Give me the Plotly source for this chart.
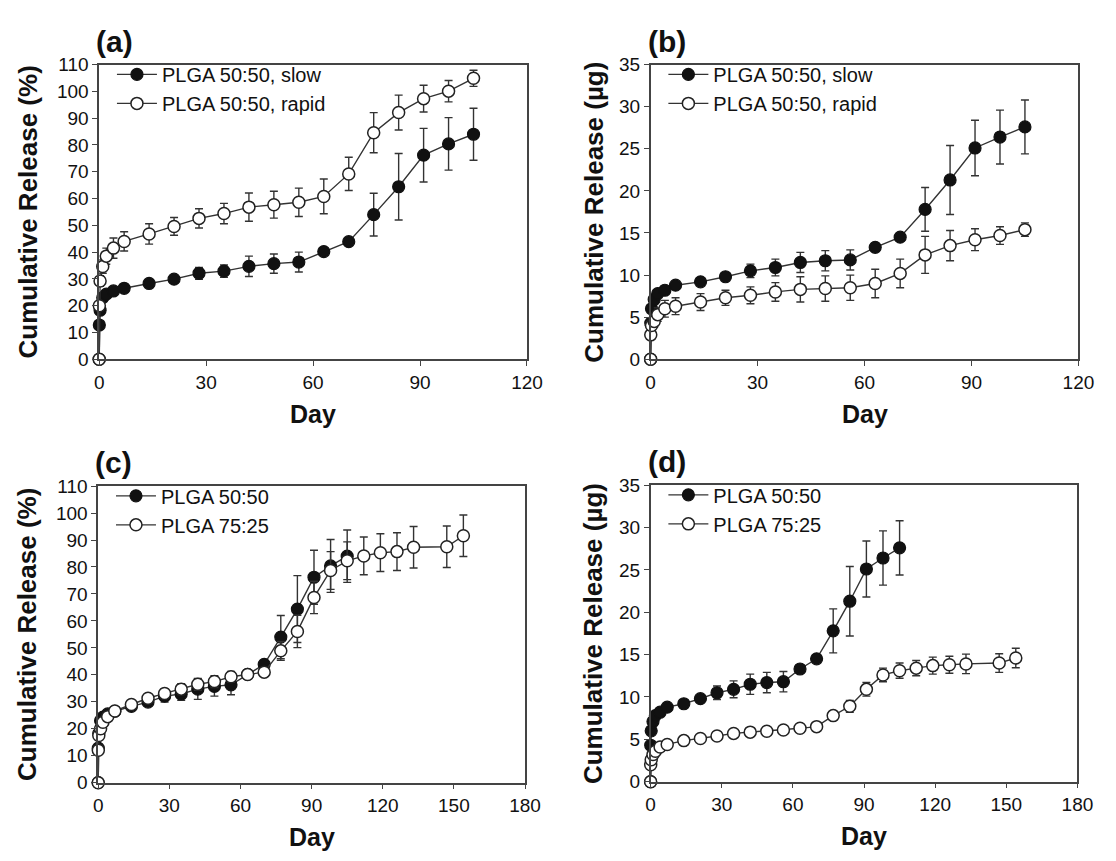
import plotly.graph_objects as go

W, H = 1116, 861

# ---------------- data ----------------
days = [0, 0.04, 0.25, 1, 2, 4, 7, 14, 21, 28, 35, 42, 49, 56, 63, 70, 77, 84, 91, 98, 105]
days_long = days + [112, 119, 126, 133, 147, 154]

slow_pct = [0, 12.8, 18.3, 23.0, 24.3, 25.5, 26.5, 28.3, 29.9, 32.1, 32.9, 34.7, 35.7, 36.3,
            40.2, 43.9, 54.0, 64.4, 76.2, 80.4, 84.0]
slow_pct_err = [0, 1.0, 1.0, 1.0, 1.0, 1.0, 1.0, 1.2, 1.3, 2.2, 2.3, 3.8, 3.6, 3.7,
                1.3, 1.3, 8.0, 12.4, 10.0, 9.8, 9.7]
rapid_pct = [0, 20.0, 29.2, 34.6, 38.5, 41.5, 44.0, 46.8, 49.6, 52.6, 54.4, 56.8, 57.7, 58.6,
             60.8, 69.2, 84.6, 92.1, 97.3, 100.1, 104.9]
rapid_pct_err = [0, 1.5, 2.0, 2.5, 3.0, 3.8, 3.6, 3.8, 3.3, 3.6, 3.8, 5.3, 5.0, 5.3,
                 6.5, 6.2, 7.5, 6.5, 5.0, 4.0, 3.0]

slow_ug = [0, 4.3, 6.0, 7.1, 7.8, 8.2, 8.8, 9.2, 9.8, 10.5, 10.9, 11.5, 11.7, 11.8,
           13.3, 14.5, 17.8, 21.3, 25.1, 26.4, 27.6]
slow_ug_err = [0, 0.3, 0.3, 0.3, 0.3, 0.3, 0.3, 0.4, 0.4, 0.8, 1.0, 1.2, 1.2, 1.2,
               0.5, 0.4, 2.6, 4.1, 3.3, 3.2, 3.2]
rapid_ug = [0, 2.9, 4.0, 4.5, 5.3, 6.0, 6.3, 6.8, 7.3, 7.6, 8.0, 8.3, 8.4, 8.5,
            9.0, 10.2, 12.4, 13.5, 14.2, 14.7, 15.4]
rapid_ug_err = [0, 0.5, 0.6, 0.7, 0.8, 1.0, 1.0, 1.0, 0.9, 1.0, 1.1, 1.5, 1.5, 1.5,
                1.7, 1.7, 2.2, 1.8, 1.3, 1.05, 0.8]

p7525_pct = [0, 12.0, 17.5, 20.0, 22.4, 24.5, 26.6, 29.0, 31.3, 33.1, 34.7, 36.5, 37.5, 39.3,
             40.1, 41.0, 48.9, 56.1, 68.7, 78.7, 82.3, 84.1, 85.3, 85.7, 87.3, 87.5, 91.6]
p7525_pct_err = [0, 1.0, 1.2, 1.2, 1.3, 1.3, 1.3, 1.5, 1.5, 1.8, 2.0, 2.2, 2.2, 2.0,
                 1.5, 1.5, 3.5, 6.0, 6.0, 7.0, 7.0, 7.0, 7.0, 7.0, 7.7, 7.7, 7.7]
p7525_ug = [0, 2.0, 2.6, 3.2, 3.6, 4.1, 4.4, 4.85, 5.1, 5.4, 5.7, 5.85, 5.95, 6.1,
            6.3, 6.5, 7.8, 8.9, 10.9, 12.6, 13.1, 13.4, 13.7, 13.8, 13.9, 14.0, 14.6]
p7525_ug_err = [0, 0.2, 0.2, 0.2, 0.2, 0.2, 0.2, 0.2, 0.2, 0.2, 0.2, 0.2, 0.2, 0.2,
                0.2, 0.3, 0.4, 0.7, 0.8, 0.8, 0.9, 0.9, 1.0, 1.0, 1.15, 1.1, 1.15]

names_ab = ["PLGA 50:50, slow", "PLGA 50:50, rapid"]
names_cd = ["PLGA 50:50", "PLGA 75:25"]
panel_labels = ["(a)", "(b)", "(c)", "(d)"]
ytitles = ["Cumulative Release (%)", "Cumulative Release (\u00b5g)",
           "Cumulative Release (%)", "Cumulative Release (\u00b5g)"]
xtitle = "Day"

# ---------------- layout geometry (px) ----------------
panels = [
    dict(x0=96, x1=532, y0=56, y1=358),
    dict(x0=658, x1=1094, y0=56, y1=358),
    dict(x0=95, x1=530, y0=488, y1=792),
    dict(x0=658, x1=1093, y0=487, y1=791),
]
def px(x):
    return x / W
def py(y):
    return 1 - y / H

FONT = "Liberation Sans, Arial, sans-serif"

fig = go.Figure()

def add_series(idx, x, y, err, name, filled, legend):
    sfx = "" if idx == 0 else str(idx + 1)
    fig.add_trace(go.Scatter(
        x=x, y=y, name=name, mode="lines+markers",
        xaxis="x" + sfx, yaxis="y" + sfx, legend=legend,
        line=dict(color="#333333", width=1.4),
        marker=dict(size=12, symbol="circle",
                    color="#111111" if filled else "white",
                    line=dict(color="#111111" if filled else "#222222", width=1.2 if filled else 1.5)),
        error_y=dict(type="data", array=err, visible=True, color="#333333", thickness=1.4, width=4),
        cliponaxis=False,
    ))

add_series(0, days, slow_pct, slow_pct_err, names_ab[0], True, "legend")
add_series(0, days, rapid_pct, rapid_pct_err, names_ab[1], False, "legend")
add_series(1, days, slow_ug, slow_ug_err, names_ab[0], True, "legend2")
add_series(1, days, rapid_ug, rapid_ug_err, names_ab[1], False, "legend2")
add_series(2, days, slow_pct, slow_pct_err, names_cd[0], True, "legend3")
add_series(2, days_long, p7525_pct, p7525_pct_err, names_cd[1], False, "legend3")
add_series(3, days, slow_ug, slow_ug_err, names_cd[0], True, "legend4")
add_series(3, days_long, p7525_ug, p7525_ug_err, names_cd[1], False, "legend4")

layout = dict(
    width=W, height=H, margin=dict(l=0, r=0, t=0, b=0),
    paper_bgcolor="white", plot_bgcolor="white",
    font=dict(family=FONT, color="#111111", size=19),
    showlegend=True,
)
xranges = [[0, 120], [0, 120], [0, 180], [0, 180]]
yranges = [[0, 110], [0, 35], [0, 110], [0, 35]]
ydt = [10, 5, 10, 5]
annotations = []
for i, p in enumerate(panels):
    sfx = "" if i == 0 else str(i + 1)
    axstyle = dict(showline=True, linecolor="#444444", linewidth=1.5, mirror=True,
                   ticks="outside", ticklen=5, tickwidth=1.2, tickcolor="#444444",
                   showgrid=False, zeroline=False,
                   tickfont=dict(family=FONT, size=19, color="#111111"))
    layout["xaxis" + sfx] = dict(domain=[px(p["x0"]), px(p["x1"])], range=xranges[i],
                                 dtick=30, tick0=0, anchor="y" + sfx, **axstyle)
    layout["yaxis" + sfx] = dict(domain=[py(p["y1"]), py(p["y0"])], range=yranges[i],
                                 dtick=ydt[i], tick0=0, anchor="x" + sfx, **axstyle)
    leg = "legend" if i == 0 else "legend" + str(i + 1)
    layout[leg] = dict(x=px(p["x0"] + 13), y=py(p["y0"] - 10), xanchor="left", yanchor="top",
                       bgcolor="rgba(0,0,0,0)", font=dict(family=FONT, size=20, color="#111111"),
                       tracegroupgap=0, itemwidth=40)
    # panel label
    annotations.append(dict(text="<b>" + panel_labels[i] + "</b>", x=px(p["x0"] - 5), y=py(p["y0"] - 24),
                            xref="paper", yref="paper", xanchor="left", yanchor="middle",
                            showarrow=False, font=dict(family=FONT, size=30, color="#111111")))
    # y title
    tx = 23 if i % 2 == 0 else 600
    annotations.append(dict(text="<b>" + ytitles[i] + "</b>", x=px(tx), y=py((p["y0"] + p["y1"]) / 2),
                            xref="paper", yref="paper", xanchor="center", yanchor="middle",
                            textangle=-90, showarrow=False,
                            font=dict(family=FONT, size=26, color="#111111")))
    # x title
    annotations.append(dict(text="<b>" + xtitle + "</b>", x=px((p["x0"] + p["x1"]) / 2), y=py(p["y1"] + 56),
                            xref="paper", yref="paper", xanchor="center", yanchor="middle",
                            showarrow=False, font=dict(family=FONT, size=25, color="#111111")))
layout["annotations"] = annotations
fig.update_layout(**layout)

fig.write_html("out.html")
